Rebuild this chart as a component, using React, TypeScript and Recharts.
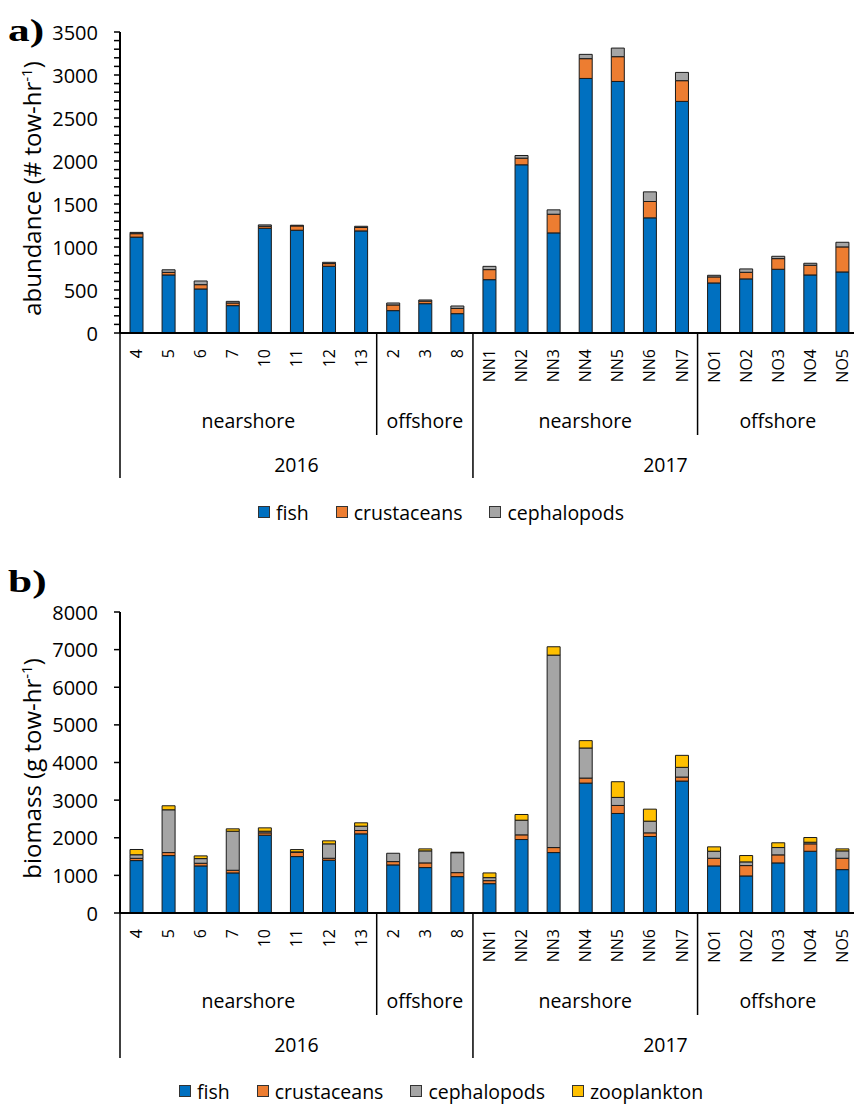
import React from 'react'
import { BarChart, Bar, XAxis, YAxis, Label } from 'recharts'

// sites along the x axis, with their zone and year groups
const SITES = ['4', '5', '6', '7', '10', '11', '12', '13', '2', '3', '8',
  'NN1', 'NN2', 'NN3', 'NN4', 'NN5', 'NN6', 'NN7', 'NO1', 'NO2', 'NO3', 'NO4', 'NO5']
const ZONES = ['nearshore', 'nearshore', 'nearshore', 'nearshore', 'nearshore', 'nearshore', 'nearshore', 'nearshore',
  'offshore', 'offshore', 'offshore',
  'nearshore', 'nearshore', 'nearshore', 'nearshore', 'nearshore', 'nearshore', 'nearshore',
  'offshore', 'offshore', 'offshore', 'offshore', 'offshore']
const YEARS = ['2016', '2016', '2016', '2016', '2016', '2016', '2016', '2016', '2016', '2016', '2016',
  '2017', '2017', '2017', '2017', '2017', '2017', '2017', '2017', '2017', '2017', '2017', '2017']

// a) abundance (# tow-hr-1)
const ABUND_FISH = [1115, 675, 512, 318, 1218, 1195, 776, 1187, 260, 341, 225, 620, 1956, 1164, 2960, 2925, 1339, 2693, 582, 629, 741, 675, 710]
const ABUND_CRUST = [40, 30, 50, 31, 23, 50, 31, 40, 66, 30, 61, 117, 77, 217, 230, 288, 190, 241, 70, 77, 124, 113, 291]
const ABUND_CEPH = [15, 30, 43, 19, 16, 8, 15, 14, 23, 13, 28, 38, 31, 51, 50, 100, 112, 96, 19, 39, 27, 23, 54]

// b) biomass (g tow-hr-1)
const BIO_FISH = [1393, 1526, 1251, 1065, 2068, 1500, 1402, 2104, 1278, 1207, 967, 780, 1953, 1606, 3453, 2645, 2033, 3506, 1251, 985, 1331, 1641, 1153]
const BIO_CRUST = [60, 80, 71, 71, 62, 115, 53, 89, 88, 124, 106, 80, 124, 133, 133, 213, 97, 107, 204, 275, 214, 197, 302]
const BIO_CEPH = [95, 1137, 124, 1038, 44, 10, 383, 115, 222, 320, 530, 80, 390, 5115, 799, 214, 311, 258, 187, 98, 195, 43, 196]
const BIO_ZOO = [140, 107, 72, 63, 89, 61, 80, 89, 0, 53, 12, 125, 151, 222, 196, 417, 319, 319, 116, 169, 126, 125, 53]

const ABUND_TICKS = [0, 500, 1000, 1500, 2000, 2500, 3000, 3500]
const ABUND_MINOR = Array.from({ length: 36 }, (_, i) => i * 100)
const BIO_TICKS = [0, 1000, 2000, 3000, 4000, 5000, 6000, 7000, 8000]

const SERIES = [
  { key: 'fish', name: 'fish', color: '#0070C0' },
  { key: 'crustaceans', name: 'crustaceans', color: '#ED7D31' },
  { key: 'cephalopods', name: 'cephalopods', color: '#A5A5A5' },
  { key: 'zooplankton', name: 'zooplankton', color: '#FFC000' }
]

const abundanceData = SITES.map((site, i) => ({
  site, fish: ABUND_FISH[i], crustaceans: ABUND_CRUST[i], cephalopods: ABUND_CEPH[i]
}))
const biomassData = SITES.map((site, i) => ({
  site, fish: BIO_FISH[i], crustaceans: BIO_CRUST[i], cephalopods: BIO_CEPH[i], zooplankton: BIO_ZOO[i]
}))

const FONT = '"Open Sans", sans-serif'
const W = 870
const H = 520
const MARGIN = { top: 32, right: 12, left: 0, bottom: 37 }
const Y_W = 120
const X_H = 150
const BAND = (W - MARGIN.right - MARGIN.left - Y_W) / SITES.length

const groupCount = (arr: string[], i: number) => {
  let n = 0
  while (i + n < arr.length && arr[i + n] === arr[i]) n++
  return n
}

const XTick = (props: any) => {
  const { x, y, payload } = props
  const i = payload.index
  const left = x - BAND / 2
  const zoneStart = i === 0 || ZONES[i] !== ZONES[i - 1]
  const yearStart = i === 0 || YEARS[i] !== YEARS[i - 1]
  const last = i === SITES.length - 1
  return (
    <g>
      <text
        transform={`translate(${x},${y + 16}) rotate(-90)`}
        textAnchor="end"
        dominantBaseline="central"
        fontFamily={FONT}
        fontSize={16}
        fill="#000"
      >
        {payload.value}
      </text>
      {zoneStart && (
        <line x1={left} x2={left} y1={y} y2={y + (yearStart ? 145 : 102)} stroke="#000" strokeWidth={1.5} />
      )}
      {zoneStart && (
        <text x={left + groupCount(ZONES, i) * BAND / 2} y={y + 87} textAnchor="middle" dominantBaseline="central"
          fontFamily={FONT} fontSize={19.5} fill="#000">
          {ZONES[i]}
        </text>
      )}
      {yearStart && (
        <text x={left + groupCount(YEARS, i) * BAND / 2} y={y + 131} textAnchor="middle" dominantBaseline="central"
          fontFamily={FONT} fontSize={19.5} fill="#000">
          {YEARS[i]}
        </text>
      )}
      {last && <line x1={left + BAND} x2={left + BAND} y1={y} y2={y + 145} stroke="#000" strokeWidth={1.5} />}
    </g>
  )
}

const makeYTick = (labels: number[]) => (props: any) => {
  const { x, y, payload } = props
  if (!labels.includes(payload.value)) return <g />
  return (
    <text x={x} y={y} textAnchor="end" dominantBaseline="central" fontFamily={FONT} fontSize={20} fill="#000">
      {payload.value}
    </text>
  )
}

const YTitle = ({ viewBox, text }: any) => {
  const cx = viewBox.x + 41
  const cy = viewBox.y + viewBox.height / 2 + 6
  return (
    <text transform={`translate(${cx},${cy}) rotate(-90)`} textAnchor="middle" fontFamily={FONT} fontSize={24} fill="#000">
      {text}
      <tspan dy={-9} fontSize={15}>-1</tspan>
      <tspan dy={9}>)</tspan>
    </text>
  )
}

const LegendRow = ({ items, top }: { items: typeof SERIES, top: number }) => (
  <div style={{
    position: 'absolute', top, left: 0, width: 882, height: 24,
    display: 'flex', justifyContent: 'center', alignItems: 'center', gap: 27,
    fontFamily: FONT, fontSize: 19.5, color: '#000'
  }}>
    {items.map((s) => (
      <div key={s.key} style={{ display: 'flex', alignItems: 'center' }}>
        <span style={{
          width: 10, height: 10, background: s.color, border: '1px solid #333',
          display: 'inline-block', marginRight: 6
        }} />
        <span>{s.name}</span>
      </div>
    ))}
  </div>
)

const StackedPanel = ({ data, series, domain, ticks, labels, title }: any) => (
  <BarChart width={W} height={H} data={data} margin={MARGIN} barSize={13}>
    <XAxis
      dataKey="site"
      interval={0}
      height={X_H}
      tick={<XTick />}
      tickLine={false}
      tickSize={0}
      tickMargin={0}
      axisLine={{ stroke: '#000', strokeWidth: 2 }}
    />
    <YAxis
      width={Y_W}
      domain={domain}
      ticks={ticks}
      interval={0}
      allowDataOverflow
      tick={makeYTick(labels)}
      tickSize={6}
      tickMargin={16}
      tickLine={{ stroke: '#000', strokeWidth: 1.5 }}
      axisLine={{ stroke: '#000', strokeWidth: 2 }}
    >
      <Label content={<YTitle text={title} />} />
    </YAxis>
    {series.map((s: any) => (
      <Bar
        key={s.key}
        dataKey={s.key}
        name={s.name}
        stackId="a"
        fill={s.color}
        stroke="#1a1a1a"
        strokeWidth={1}
        isAnimationActive={false}
      />
    ))}
  </BarChart>
)

export default function App() {
  return (
    <div style={{ position: 'absolute', left: 0, top: 0, width: 854, height: 1104, overflow: 'hidden', background: '#fff' }}>
      <div style={{ position: 'absolute', left: 0, top: 0 }}>
        <StackedPanel
          data={abundanceData}
          series={SERIES.slice(0, 3)}
          domain={[0, 3500]}
          ticks={ABUND_MINOR}
          labels={ABUND_TICKS}
          title="abundance (# tow-hr"
        />
      </div>
      <LegendRow items={SERIES.slice(0, 3)} top={500} />
      <div style={{ position: 'absolute', left: 0, top: 580 }}>
        <StackedPanel
          data={biomassData}
          series={SERIES}
          domain={[0, 8000]}
          ticks={BIO_TICKS}
          labels={BIO_TICKS}
          title="biomass (g tow-hr"
        />
      </div>
      <LegendRow items={SERIES} top={1079} />
      <svg width={854} height={1104} style={{ position: 'absolute', left: 0, top: 0, pointerEvents: 'none' }}>
        <text transform="translate(8,41) scale(1.4,1)" fontFamily='"Liberation Serif", serif' fontWeight="bold" fontSize={31} fill="#000">a)</text>
        <text transform="translate(8,592) scale(1.4,1)" fontFamily='"Liberation Serif", serif' fontWeight="bold" fontSize={31} fill="#000">b)</text>
      </svg>
    </div>
  )
}
